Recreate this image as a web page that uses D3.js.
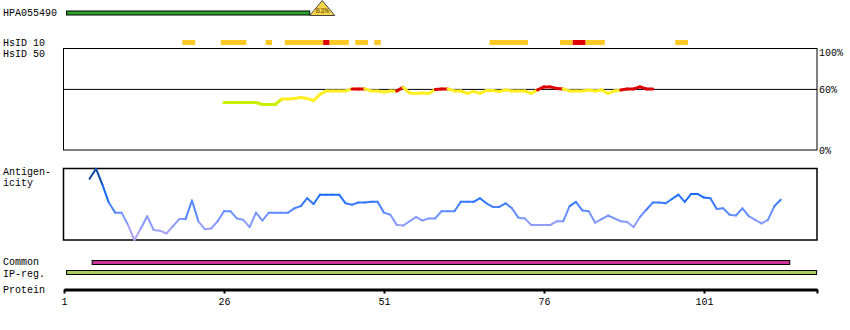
<!DOCTYPE html>
<html><head><meta charset="utf-8">
<script src="https://cdn.jsdelivr.net/npm/d3@7"></script>
<style>
body{margin:0;background:#fff}
text{font-family:"Liberation Mono","DejaVu Sans Mono",monospace;font-size:10px;fill:#000}
</style>
</head><body><svg id="c" width="850" height="330"></svg>
<script>
// ---------------- data ----------------
const antibodyId = "HPA055490";
const antibodyRange = [1.4, 39.4];
const antibodyIdentity = "83%";

const axisTicks = [1, 26, 51, 76, 101];
const axisEnd = 118.66;

const hsid10Start = [19.5, 25.5, 32.5, 35.5, 41.5, 42.5, 46.5, 49.5, 67.5, 78.5, 80.5, 82.5, 96.5];
const hsid10End   = [21.5, 29.5, 33.5, 41.5, 42.5, 45.5, 48.5, 50.5, 73.5, 80.5, 82.5, 85.5, 98.5];
const hsid10High  = [0, 0, 0, 0, 1, 0, 0, 0, 0, 0, 1, 0, 0];

const hsid50Ticks = [100, 60, 0];
const hsid50First = 26;
const hsid50Values = [
  47, 47, 47, 47, 47, 47, 45, 45, 45, 50.5,
  50.5, 51, 52, 51, 49, 55, 58.5, 58.5, 58.5, 58.5,
  60.5, 60.5, 60.5, 58.5, 58.5, 57.5, 58.5, 58.5, 62, 56.5,
  56, 56.5, 56, 60, 60.5, 60.5, 58.5, 58.5, 56, 58,
  56, 59, 59, 58, 59.5, 58.5, 58.5, 58.5, 56, 59.5,
  62.5, 62.5, 61, 60.5, 58.5, 58.5, 58.5, 59.5, 58.5, 59.5,
  56, 58.5, 59.5, 60.5, 60.5, 62.5, 60.5, 60.5
];

const antigenFirst = 5;
const antigenValues = [
  0.85, 0.99, 0.77, 0.52, 0.38, 0.38, 0.21, 0.00, 0.16, 0.33,
  0.14, 0.13, 0.09, 0.19, 0.29, 0.29, 0.55, 0.26, 0.15, 0.16,
  0.26, 0.40, 0.40, 0.30, 0.28, 0.18, 0.38, 0.27, 0.38, 0.38,
  0.38, 0.38, 0.44, 0.47, 0.58, 0.50, 0.63, 0.63, 0.63, 0.63,
  0.51, 0.49, 0.52, 0.52, 0.53, 0.53, 0.38, 0.35, 0.21, 0.20,
  0.26, 0.32, 0.27, 0.30, 0.30, 0.40, 0.40, 0.40, 0.53, 0.53,
  0.53, 0.58, 0.51, 0.46, 0.46, 0.51, 0.44, 0.31, 0.30, 0.21,
  0.21, 0.21, 0.21, 0.26, 0.26, 0.47, 0.53, 0.41, 0.40, 0.24,
  0.29, 0.34, 0.30, 0.26, 0.25, 0.18, 0.32, 0.42, 0.52, 0.52,
  0.51, 0.57, 0.63, 0.53, 0.64, 0.64, 0.59, 0.58, 0.43, 0.44,
  0.35, 0.34, 0.44, 0.33, 0.28, 0.23, 0.28, 0.47, 0.56
];

const commonRange = [5.4, 114.4];
const ipRegRange = [1.4, 118.6];

// ---------------- drawing ----------------
const svg = d3.select("#c");
const x = d3.scaleLinear().domain([1, axisEnd]).range([64, 817]);
const yP = d3.scaleLinear().domain([0, 100]).range([150, 49]);
const yA = d3.scaleLinear().domain([0, 1]).range([240, 168]);

// left labels
const labels = [
  ["HPA055490", 16], ["HsID 10", 45.5], ["HsID 50", 57],
  ["Antigen-", 174.5], ["icity", 186], ["Common", 265], ["IP-reg.", 276.5], ["Protein", 292.5]
];
svg.selectAll("text.lbl").data(labels).join("text").attr("class", "lbl")
  .attr("x", 3).attr("y", d => d[1]).text(d => d[0]);

// antibody bar + identity triangle
svg.append("rect").attr("x", x(antibodyRange[0])).attr("y", 11)
  .attr("width", x(antibodyRange[1]) - x(antibodyRange[0])).attr("height", 4)
  .attr("fill", "#2aa52a").attr("stroke", "#000").attr("stroke-width", 1);
const tx0 = x(antibodyRange[1]), tx1 = tx0 + 25;
svg.append("path").attr("d", `M${tx0},15.5L${tx1},15.5L${(tx0 + tx1) / 2},0.5Z`)
  .attr("fill", "#f7d54a").attr("stroke", "#444").attr("stroke-width", 1);
svg.append("text").attr("x", (tx0 + tx1) / 2).attr("y", 12.5).attr("text-anchor", "middle")
  .style("font-size", "7.5px").style("fill", "#664400").text(antibodyIdentity);

// HsID 10 bars
svg.selectAll("rect.h10").data(hsid10Start).join("rect").attr("class", "h10")
  .attr("x", d => x(d)).attr("y", 40)
  .attr("width", (d, i) => x(hsid10End[i]) - x(d)).attr("height", 5)
  .attr("fill", (d, i) => hsid10High[i] ? "#dd0000" : "#ffc825");

// HsID 50 panel
svg.append("rect").attr("x", 63.5).attr("y", 48.5).attr("width", 753.5).attr("height", 101.5)
  .attr("fill", "none").attr("stroke", "#000").attr("stroke-width", 1);
svg.append("line").attr("x1", 63.5).attr("x2", 817).attr("y1", yP(60)).attr("y2", yP(60))
  .attr("stroke", "#000").attr("stroke-width", 1);
svg.selectAll("text.pct").data(hsid50Ticks).join("text").attr("class", "pct")
  .attr("x", 819).attr("y", d => yP(d) + (d === 100 ? 7 : 3.5)).text(d => d + "%");

const h50 = d3.range(hsid50Values.length - 1).map(i => ({
  r0: hsid50First + i, r1: hsid50First + i + 1,
  v0: hsid50Values[i], v1: hsid50Values[i + 1]
}));
const h50Color = m => m >= 60 ? "#dd0000" : (m < 48 ? "#ccee00" : "#ffee22");
svg.selectAll("line.h50").data(h50).join("line").attr("class", "h50")
  .attr("x1", d => x(d.r0)).attr("x2", d => x(d.r1))
  .attr("y1", d => yP(d.v0)).attr("y2", d => yP(d.v1))
  .attr("stroke", d => h50Color((d.v0 + d.v1) / 2))
  .attr("stroke-width", 3).attr("stroke-linecap", "round");

// Antigenicity panel
svg.append("rect").attr("x", 63.5).attr("y", 168.5).attr("width", 753.5).attr("height", 71.5)
  .attr("fill", "none").attr("stroke", "#000").attr("stroke-width", 1.5);
const agColor = d3.scaleLinear().domain([0, 0.3, 0.6, 0.8, 1])
  .range(["#c0a8f0", "#7c98ff", "#1e6eff", "#0a55cc", "#0a3a80"]);
const ag = d3.range(antigenValues.length - 1).map(i => ({
  r0: antigenFirst + i, r1: antigenFirst + i + 1,
  v0: antigenValues[i], v1: antigenValues[i + 1]
}));
svg.selectAll("line.ag").data(ag).join("line").attr("class", "ag")
  .attr("x1", d => x(d.r0)).attr("x2", d => x(d.r1))
  .attr("y1", d => yA(d.v0)).attr("y2", d => yA(d.v1))
  .attr("stroke", d => agColor((d.v0 + d.v1) / 2))
  .attr("stroke-width", 2).attr("stroke-linecap", "round");

// Common and IP-reg bars
svg.append("rect").attr("x", x(commonRange[0])).attr("y", 260.5)
  .attr("width", x(commonRange[1]) - x(commonRange[0])).attr("height", 4)
  .attr("fill", "#cc3399").attr("stroke", "#000").attr("stroke-width", 1);
svg.append("rect").attr("x", x(ipRegRange[0])).attr("y", 270.5)
  .attr("width", x(ipRegRange[1]) - x(ipRegRange[0])).attr("height", 4)
  .attr("fill", "#a8cc60").attr("stroke", "#000").attr("stroke-width", 1);

// Protein axis
const axis = d3.axisBottom(x).tickValues(axisTicks.concat([axisEnd]))
  .tickFormat(d => d === axisEnd ? "" : d).tickSize(4).tickSizeOuter(0).tickPadding(4.5);
const ag2 = svg.append("g").attr("transform", "translate(0,289.5)").call(axis);
ag2.select(".domain").attr("stroke-width", 3).attr("stroke", "#000");
ag2.selectAll(".tick line").attr("stroke-width", 2).attr("stroke", "#000");
ag2.selectAll(".tick text").style("font-family", "'Liberation Mono','DejaVu Sans Mono',monospace")
  .style("font-size", "10px").attr("fill", "#000");
</script>
</body></html>
